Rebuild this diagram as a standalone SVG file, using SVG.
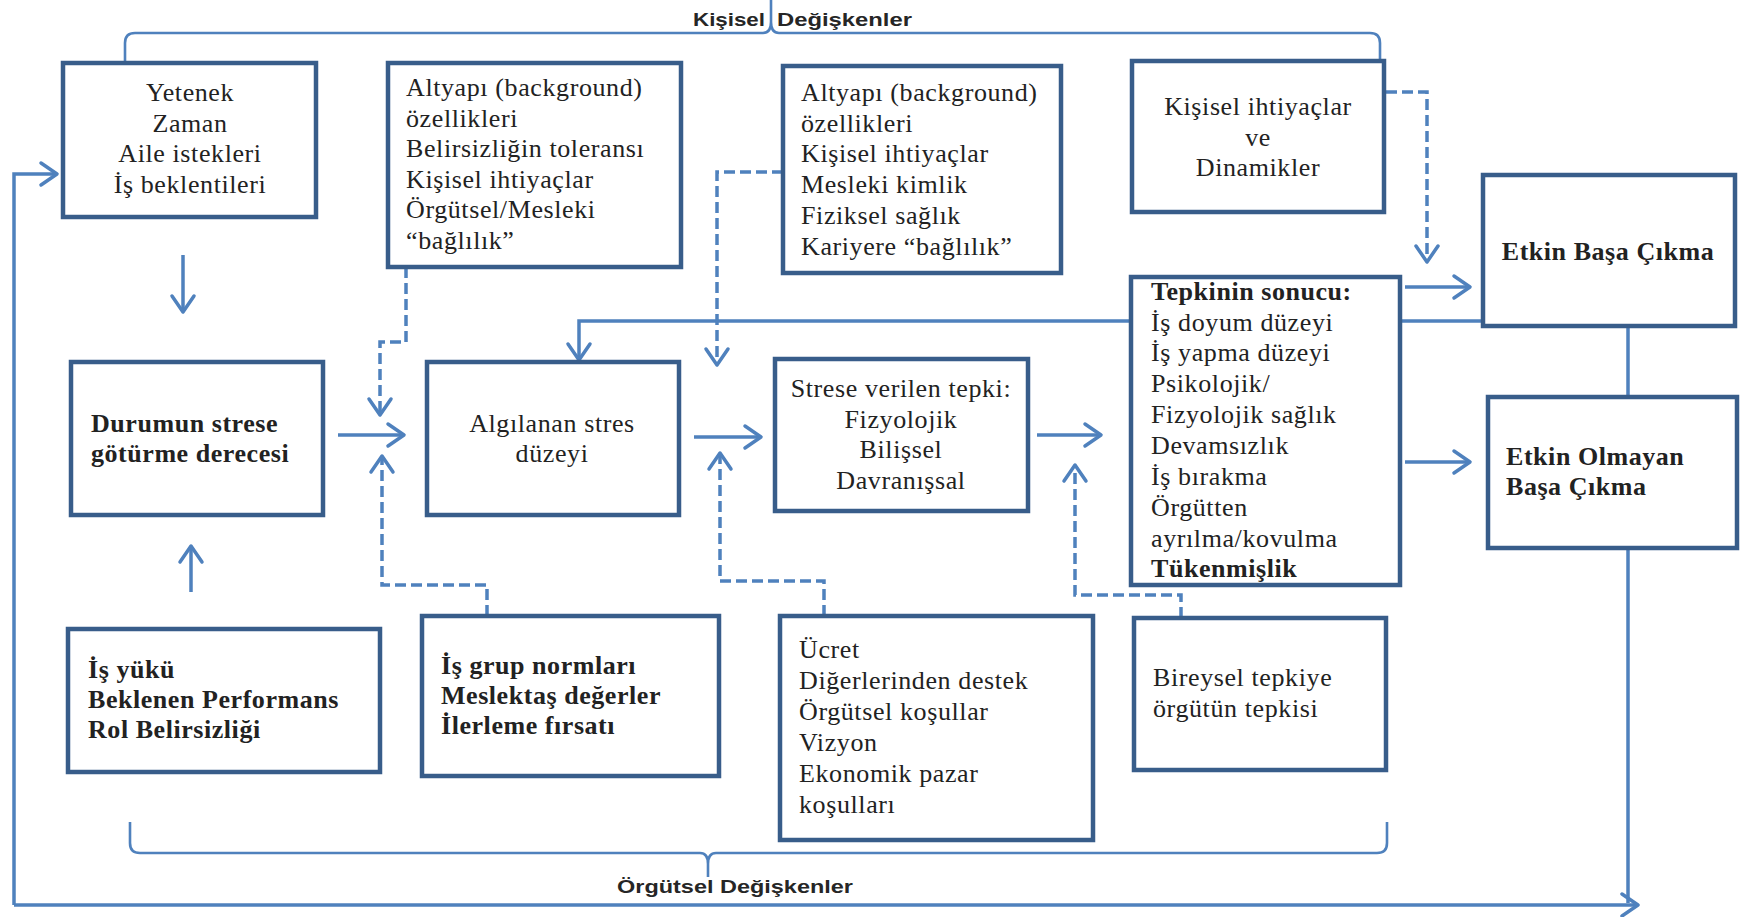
<svg xmlns="http://www.w3.org/2000/svg" width="1740" height="917" viewBox="0 0 1740 917">
  <style>
    .box { fill: #ffffff; stroke: #385D8A; stroke-width: 4.5; }
    .t { font-family: "Liberation Serif", "Times New Roman", serif; font-size: 26px; fill: #222222; letter-spacing: 0.6px; }
    .b { font-weight: bold; letter-spacing: 0.55px; }
    .c { text-anchor: middle; }
    .lbl { font-family: "Liberation Sans", Arial, sans-serif; font-size: 19px; font-weight: bold; fill: #262626; }
    .ln { fill: none; stroke: #4F81BD; stroke-width: 3.5; }
    .dash { stroke-dasharray: 11 5; }
    .brace { fill: none; stroke: #4F81BD; stroke-width: 2.6; }
  </style>
  <defs>
    <marker id="ah" viewBox="-22 -14 26 28" refX="0" refY="0" markerWidth="26" markerHeight="28" markerUnits="userSpaceOnUse" orient="auto">
      <path d="M-16,-11 L0,0 L-16,11" fill="none" stroke="#4F81BD" stroke-width="3.5" stroke-linecap="round" stroke-linejoin="round"/>
    </marker>
  </defs>

  <!-- connectors -->
  <g id="connectors">
    <!-- braces -->
    <path class="brace" d="M125,63 V43 Q125,33 135,33 H763 Q771,33 771,22 V0 M771,22 Q771,33 779,33 H1370 Q1380,33 1380,43 V61"/>
    <path class="brace" d="M130,822 V843 Q130,853 140,853 H700 Q708,853 708,864 V877 M708,864 Q708,853 716,853 H1377 Q1387,853 1387,843 V822"/>

    <!-- solid flow -->
    <path class="ln" d="M183,255 V312" marker-end="url(#ah)"/>
    <path class="ln" d="M191,592 V546" marker-end="url(#ah)"/>
    <path class="ln" d="M338,435 H404" marker-end="url(#ah)"/>
    <path class="ln" d="M694,437 H761" marker-end="url(#ah)"/>
    <path class="ln" d="M1037,435 H1101" marker-end="url(#ah)"/>
    <path class="ln" d="M1405,287 H1470" marker-end="url(#ah)"/>
    <path class="ln" d="M1405,462 H1470" marker-end="url(#ah)"/>
    <path class="ln" d="M1484,321 H579 V360" marker-end="url(#ah)"/>
    <path class="ln" d="M1628,327 V397"/>

    <!-- outer feedback loop -->
    <path class="ln" d="M1628,548 V903"/>
    <path class="ln" d="M14,905 H1638" marker-end="url(#ah)"/>
    <path class="ln" d="M14,905 V174 H57" marker-end="url(#ah)"/>

    <!-- dashed influences -->
    <path class="ln dash" d="M406,267 V342 H380 V415" marker-end="url(#ah)"/>
    <path class="ln dash" d="M783,172 H717 V365" marker-end="url(#ah)"/>
    <path class="ln dash" d="M1386,92 H1427 V262" marker-end="url(#ah)"/>
    <path class="ln dash" d="M487,616 V585 H382 V456" marker-end="url(#ah)"/>
    <path class="ln dash" d="M824,616 V581 H720 V453" marker-end="url(#ah)"/>
    <path class="ln dash" d="M1181,618 V595 H1075 V465" marker-end="url(#ah)"/>
  </g>

  <!-- brace labels -->
  <g id="label-kisisel">
    <text class="lbl" x="693" y="26" textLength="72" lengthAdjust="spacingAndGlyphs">Kişisel</text>
    <text class="lbl" x="777" y="26" textLength="135" lengthAdjust="spacingAndGlyphs">Değişkenler</text>
  </g>
  <g id="label-orgutsel">
    <text class="lbl" x="617" y="893" textLength="236" lengthAdjust="spacingAndGlyphs">Örgütsel Değişkenler</text>
  </g>

  <!-- nodes -->
  <g id="n-yetenek">
    <rect class="box" x="63" y="63" width="253" height="154"/>
    <text class="t c" x="190" y="101">Yetenek</text>
    <text class="t c" x="190" y="132">Zaman</text>
    <text class="t c" x="190" y="162">Aile istekleri</text>
    <text class="t c" x="190" y="193">İş beklentileri</text>
  </g>

  <g id="n-altyapi1">
    <rect class="box" x="388" y="63" width="293" height="204"/>
    <text class="t" x="406" y="96">Altyapı (background)</text>
    <text class="t" x="406" y="127">özellikleri</text>
    <text class="t" x="406" y="157">Belirsizliğin toleransı</text>
    <text class="t" x="406" y="188">Kişisel ihtiyaçlar</text>
    <text class="t" x="406" y="218">Örgütsel/Mesleki</text>
    <text class="t" x="406" y="249">“bağlılık”</text>
  </g>

  <g id="n-altyapi2">
    <rect class="box" x="783" y="66" width="278" height="207"/>
    <text class="t" x="801" y="101">Altyapı (background)</text>
    <text class="t" x="801" y="132">özellikleri</text>
    <text class="t" x="801" y="162">Kişisel ihtiyaçlar</text>
    <text class="t" x="801" y="193">Mesleki kimlik</text>
    <text class="t" x="801" y="224">Fiziksel sağlık</text>
    <text class="t" x="801" y="255">Kariyere “bağlılık”</text>
  </g>

  <g id="n-ihtiyaclar">
    <rect class="box" x="1132" y="61" width="252" height="151"/>
    <text class="t c" x="1258" y="115">Kişisel ihtiyaçlar</text>
    <text class="t c" x="1258" y="146">ve</text>
    <text class="t c" x="1258" y="176">Dinamikler</text>
  </g>

  <g id="n-etkin">
    <rect class="box" x="1483" y="175" width="252" height="151"/>
    <text class="t b c" x="1608" y="260">Etkin Başa Çıkma</text>
  </g>

  <g id="n-etkin-olmayan">
    <rect class="box" x="1488" y="397" width="249" height="151"/>
    <text class="t b" x="1506" y="465">Etkin Olmayan</text>
    <text class="t b" x="1506" y="495">Başa Çıkma</text>
  </g>

  <g id="n-tepkinin-sonucu">
    <rect class="box" x="1131" y="277" width="269" height="308"/>
    <text class="t b" x="1151" y="300">Tepkinin sonucu:</text>
    <text class="t" x="1151" y="331">İş doyum düzeyi</text>
    <text class="t" x="1151" y="361">İş yapma düzeyi</text>
    <text class="t" x="1151" y="392">Psikolojik/</text>
    <text class="t" x="1151" y="423">Fizyolojik sağlık</text>
    <text class="t" x="1151" y="454">Devamsızlık</text>
    <text class="t" x="1151" y="485">İş bırakma</text>
    <text class="t" x="1151" y="516">Örgütten</text>
    <text class="t" x="1151" y="547">ayrılma/kovulma</text>
    <text class="t b" x="1151" y="577">Tükenmişlik</text>
  </g>

  <g id="n-strese-tepki">
    <rect class="box" x="775" y="359" width="253" height="152"/>
    <text class="t c" x="901" y="397">Strese verilen tepki:</text>
    <text class="t c" x="901" y="428">Fizyolojik</text>
    <text class="t c" x="901" y="458">Bilişsel</text>
    <text class="t c" x="901" y="489">Davranışsal</text>
  </g>

  <g id="n-algilanan">
    <rect class="box" x="427" y="362" width="252" height="153"/>
    <text class="t c" x="552" y="432">Algılanan stres</text>
    <text class="t c" x="552" y="462">düzeyi</text>
  </g>

  <g id="n-durumun">
    <rect class="box" x="71" y="362" width="252" height="153"/>
    <text class="t b" x="91" y="432">Durumun strese</text>
    <text class="t b" x="91" y="462">götürme derecesi</text>
  </g>

  <g id="n-is-yuku">
    <rect class="box" x="68" y="629" width="312" height="143"/>
    <text class="t b" x="88" y="678">İş yükü</text>
    <text class="t b" x="88" y="708">Beklenen Performans</text>
    <text class="t b" x="88" y="738">Rol Belirsizliği</text>
  </g>

  <g id="n-is-grup">
    <rect class="box" x="422" y="616" width="297" height="160"/>
    <text class="t b" x="441" y="674">İş grup normları</text>
    <text class="t b" x="441" y="704">Meslektaş değerler</text>
    <text class="t b" x="441" y="734">İlerleme fırsatı</text>
  </g>

  <g id="n-ucret">
    <rect class="box" x="780" y="616" width="313" height="224"/>
    <text class="t" x="799" y="658">Ücret</text>
    <text class="t" x="799" y="689">Diğerlerinden destek</text>
    <text class="t" x="799" y="720">Örgütsel koşullar</text>
    <text class="t" x="799" y="751">Vizyon</text>
    <text class="t" x="799" y="782">Ekonomik pazar</text>
    <text class="t" x="799" y="813">koşulları</text>
  </g>

  <g id="n-bireysel">
    <rect class="box" x="1134" y="618" width="252" height="152"/>
    <text class="t" x="1153" y="686">Bireysel tepkiye</text>
    <text class="t" x="1153" y="717">örgütün tepkisi</text>
  </g>
</svg>
